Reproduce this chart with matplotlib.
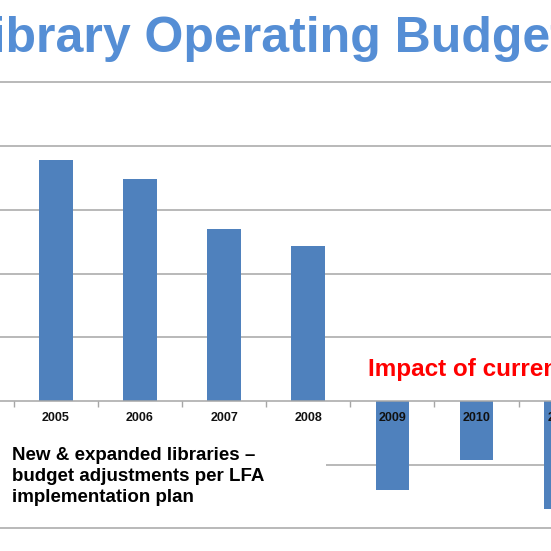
import matplotlib
matplotlib.use("Agg")
import matplotlib.pyplot as plt
from matplotlib.patches import Rectangle
import numpy as np

years = ["2005", "2006", "2007", "2008", "2009", "2010", "2011"]
values = [3.78, 3.49, 2.70, 2.44, -1.39, -0.92, -1.69]
grid_levels = [-2, -1, 1, 2, 3, 4, 5]

title = "Library Operating Budget"
red_note = "Impact of current"
note_lines = ["New & expanded libraries \u2013",
              "budget adjustments per LFA",
              "implementation plan"]

W = H = 551
AXW = 1.2  # axes extend past the right edge so the cut-off 2011 label shows
plt.rcParams['font.family'] = ['Liberation Sans', 'DejaVu Sans']
fig = plt.figure(figsize=(5.51, 5.51), dpi=100)
ax = fig.add_axes([0, 0, AXW, 1])

x = np.arange(len(years))
ax.bar(x, values, width=0.4, color="#4F81BD", zorder=3)

for g in grid_levels:
    ax.axhline(g, color="#A6A6A6", lw=1.1, zorder=1)

for s in ["top", "left", "right"]:
    ax.spines[s].set_visible(False)
ax.spines["bottom"].set_position(("data", 0))
ax.spines["bottom"].set_color("#A6A6A6")
ax.spines["bottom"].set_linewidth(1.1)
ax.spines["bottom"].set_zorder(4)
ax.set_yticks([])
ax.set_xticks(x)
ax.set_xticklabels(years, fontsize=9, fontweight="bold", color="#111111")
ax.set_xticks(np.arange(-0.5, len(years) - 0.5, 1), minor=True)
ax.tick_params(axis="x", which="major", length=0, pad=8)
ax.tick_params(axis="x", which="minor", length=4, color="#A6A6A6", width=1)
ax.xaxis.set_zorder(5)

# pixel-calibrated limits (set after ticks so they are not expanded)
cx0, cw = 55.8, 84.15
y0, gh = 401.0, 63.7
ax.set_xlim((0 - cx0) / cw, (W * AXW - cx0) / cw)
ax.set_ylim((y0 - H) / gh, (y0 - 0) / gh)

# white box behind the note
ax.add_patch(Rectangle((0, 1 - 515 / H), 326 / W, 85 / H, transform=fig.transFigure,
                       facecolor="white", edgecolor="none", zorder=2))

# title: place so that "Budge" ends at x=550 px
tsize = 36
renderer = fig.canvas.get_renderer()
probe = fig.text(0, 0, title[:-1], fontsize=tsize, fontweight="bold")
wpx = probe.get_window_extent(renderer).width
probe.remove()
fig.text((550 - wpx) / W, 1 - 51.7 / H, title, fontsize=tsize, fontweight="bold",
         color="#558ED5", ha="left", va="baseline")

fig.text(368 / W, 1 - 375.7 / H, red_note, fontsize=17.5, fontweight="bold",
         color="#FF0000", ha="left", va="baseline")
for i, line in enumerate(note_lines):
    fig.text(11.5 / W, 1 - (460 + 21 * i) / H, line, fontsize=13.5,
             fontweight="bold", color="black", ha="left", va="baseline")

fig.savefig("out.png", dpi=100)
